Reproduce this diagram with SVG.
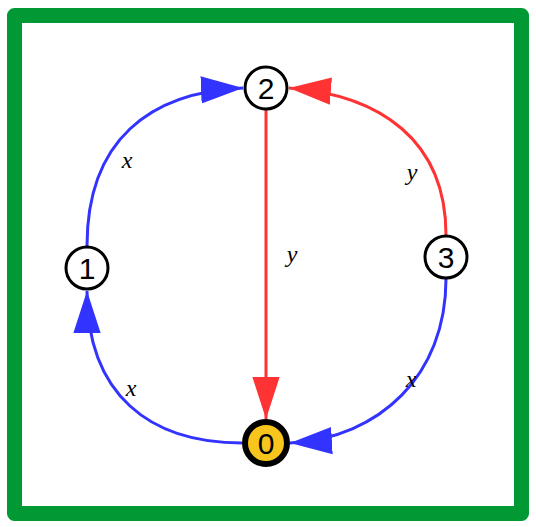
<svg xmlns="http://www.w3.org/2000/svg" width="536" height="527" viewBox="0 0 536 527">
<style>
.frame{fill:#fff;stroke:#009933;stroke-width:15;stroke-linejoin:round}
.node circle{fill:#fff;stroke:#000;stroke-width:3}
.node text{font-family:"Liberation Sans",Arial,sans-serif;font-size:30px;text-anchor:middle;fill:#000}
#n0 circle{fill:#f8c51c;stroke-width:6}
.e{fill:none;stroke-width:3}
.blue{stroke:#3333ff}
.red{stroke:#ff3333}
.lbl{font-family:"Liberation Serif","Times New Roman",serif;font-style:italic;font-size:24px;fill:#000;text-anchor:middle}
</style>
<defs>
<marker id="ab" markerUnits="userSpaceOnUse" markerWidth="42" markerHeight="28" viewBox="0 0 40 26" refX="40" refY="13" orient="auto">
<path d="M0,0 L40,13 L0,26 Z" fill="#3333ff"/>
</marker>
<marker id="ar" markerUnits="userSpaceOnUse" markerWidth="42" markerHeight="28" viewBox="0 0 40 26" refX="40" refY="13" orient="auto">
<path d="M0,0 L40,13 L0,26 Z" fill="#ff3333"/>
</marker>
</defs>
<rect class="frame" x="14.5" y="15.5" width="507" height="498"/>
<g id="edges">
<path class="e blue" d="M87,246 C87,140 150,92 243,88" marker-end="url(#ab)"/>
<path class="e red" d="M446,235 C446,140 380,95 289,88" marker-end="url(#ar)"/>
<path class="e red" d="M266,110 L266,419" marker-end="url(#ar)"/>
<path class="e blue" d="M242,443 C150,443 87,395 87,291" marker-end="url(#ab)"/>
<path class="e blue" d="M446,279 C446,375 380,438 290,443" marker-end="url(#ab)"/>
<text class="lbl" x="127" y="168">x</text>
<text class="lbl" x="292" y="262">y</text>
<text class="lbl" x="412" y="180">y</text>
<text class="lbl" x="131" y="396">x</text>
<text class="lbl" x="411" y="387">x</text>
</g>
<g id="n2" class="node"><circle cx="266" cy="88" r="21"/><text x="266" y="99">2</text></g>
<g id="n1" class="node"><circle cx="87" cy="268" r="21"/><text x="87" y="279">1</text></g>
<g id="n3" class="node"><circle cx="446" cy="257" r="21"/><text x="446" y="268">3</text></g>
<g id="n0" class="node"><circle cx="266" cy="443" r="21"/><text x="266" y="454">0</text></g>
</svg>
